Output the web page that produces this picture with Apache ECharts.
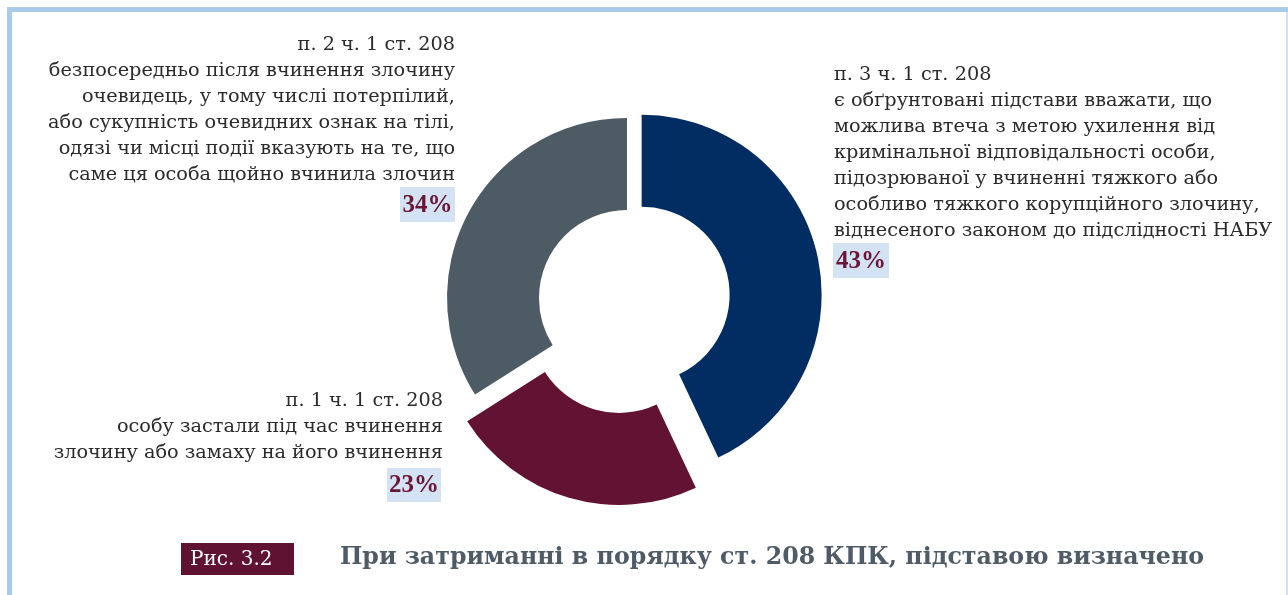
<!DOCTYPE html>
<html>
<head>
<meta charset="utf-8">
<script src="https://cdn.jsdelivr.net/npm/echarts@6/dist/echarts.min.js"></script>
<style>
  html, body { margin: 0; padding: 0; background: #ffffff; }
  #chart { width: 1288px; height: 595px; }
</style>
</head>
<body>
<div id="chart"></div>
<script>
// Grounds for detention under art. 208 of the Criminal Procedure Code, share of cases (%)
const categories = ['п. 3 ч. 1 ст. 208', 'п. 1 ч. 1 ст. 208', 'п. 2 ч. 1 ст. 208'];
const shares = [43, 23, 34];
const descriptions = [
  [
    'є обґрунтовані підстави вважати, що',
    'можлива втеча з метою ухилення від',
    'кримінальної відповідальності особи,',
    'підозрюваної у вчиненні тяжкого або',
    'особливо тяжкого корупційного злочину,',
    'віднесеного законом до підслідності НАБУ'
  ],
  [
    'особу застали під час вчинення',
    'злочину або замаху на його вчинення'
  ],
  [
    'безпосередньо після вчинення злочину',
    'очевидець, у тому числі потерпілий,',
    'або сукупність очевидних ознак на тілі,',
    'одязі чи місці події вказують на те, що',
    'саме ця особа щойно вчинила злочин'
  ]
];
const captionTag = 'Рис. 3.2';
const captionTitle = 'При затриманні в порядку ст. 208 КПК, підставою визначено';

// styling
const sliceColors = ['#022d63', '#621232', '#4d5b65'];
const pullOut = [15, 28, 0];
const textColor = '#2b2b2b';
const pctColor = '#6a1637';
const pctBg = '#d4e3f3';
const frameColor = '#a9cbea';
const serif = '"DejaVu Serif", "Liberation Serif", serif';
const pctFont = '"Liberation Serif", "DejaVu Serif", serif';

const chart = echarts.init(document.getElementById('chart'), null, { renderer: 'canvas' });

// one pie per slice, so every slice can be pulled out by its own distance
const series = categories.map((cat, k) => ({
  type: 'pie',
  center: [627, 298],
  radius: [88, 180],
  startAngle: 90,
  clockwise: true,
  selectedMode: 'multiple',
  selectedOffset: pullOut[k],
  silent: true,
  animation: false,
  avoidLabelOverlap: false,
  label: { show: false },
  labelLine: { show: false },
  emphasis: { disabled: true },
  select: { itemStyle: { borderWidth: 0 } },
  z: 2,
  data: categories.map((name, i) => ({
    name: name,
    value: shares[i],
    selected: i === k && pullOut[k] > 0,
    itemStyle: { color: i === k ? sliceColors[i] : 'rgba(0,0,0,0)', borderWidth: 0 },
    select: { itemStyle: { color: i === k ? sliceColors[i] : 'rgba(0,0,0,0)' } }
  }))
}));

// text block placement for each category: anchor x, first line top, alignment, percent box
const blocks = [
  { x: 834, y: 62, align: 'left', box: [833, 243, 56, 35] },
  { x: 443, y: 388, align: 'right', box: [387, 468, 54, 34] },
  { x: 455, y: 32, align: 'right', box: [400, 187, 55, 35] }
];

const graphics = [
  // frame
  { type: 'rect', shape: { x: 7, y: 7, width: 5, height: 588 }, style: { fill: frameColor }, silent: true },
  { type: 'rect', shape: { x: 7, y: 7, width: 1281, height: 5 }, style: { fill: frameColor }, silent: true },
  { type: 'rect', shape: { x: 1286, y: 12, width: 2, height: 583 }, style: { fill: '#d3e3f3' }, silent: true }
];

categories.forEach((cat, i) => {
  const b = blocks[i];
  graphics.push({
    type: 'text',
    x: b.x, y: b.y,
    silent: true,
    style: {
      text: [cat].concat(descriptions[i]).join('\n'),
      font: '19.3px ' + serif,
      fill: textColor,
      align: b.align,
      verticalAlign: 'top',
      lineHeight: 26
    }
  });
  graphics.push({
    type: 'rect',
    shape: { x: b.box[0], y: b.box[1], width: b.box[2], height: b.box[3] },
    style: { fill: pctBg },
    silent: true
  });
  graphics.push({
    type: 'text',
    x: b.box[0] + b.box[2] / 2, y: b.box[1] + b.box[3] / 2 + 1,
    silent: true,
    style: {
      text: shares[i] + '%',
      font: 'bold 25px ' + pctFont,
      fill: pctColor,
      align: 'center',
      verticalAlign: 'middle'
    }
  });
});

// figure caption
graphics.push(
  { type: 'rect', shape: { x: 181, y: 543, width: 113, height: 32 }, style: { fill: '#5f1232' }, silent: true },
  {
    type: 'text', x: 190, y: 559.5, silent: true,
    style: { text: captionTag, font: '20px ' + serif, fill: '#ffffff', align: 'left', verticalAlign: 'middle' }
  },
  {
    type: 'text', x: 340, y: 558, silent: true,
    style: { text: captionTitle, font: 'bold 23.7px ' + serif, fill: '#4f5b66', align: 'left', verticalAlign: 'middle' }
  }
);

chart.setOption({
  animation: false,
  backgroundColor: '#ffffff',
  series: series,
  graphic: { elements: graphics }
});
</script>
</body>
</html>
